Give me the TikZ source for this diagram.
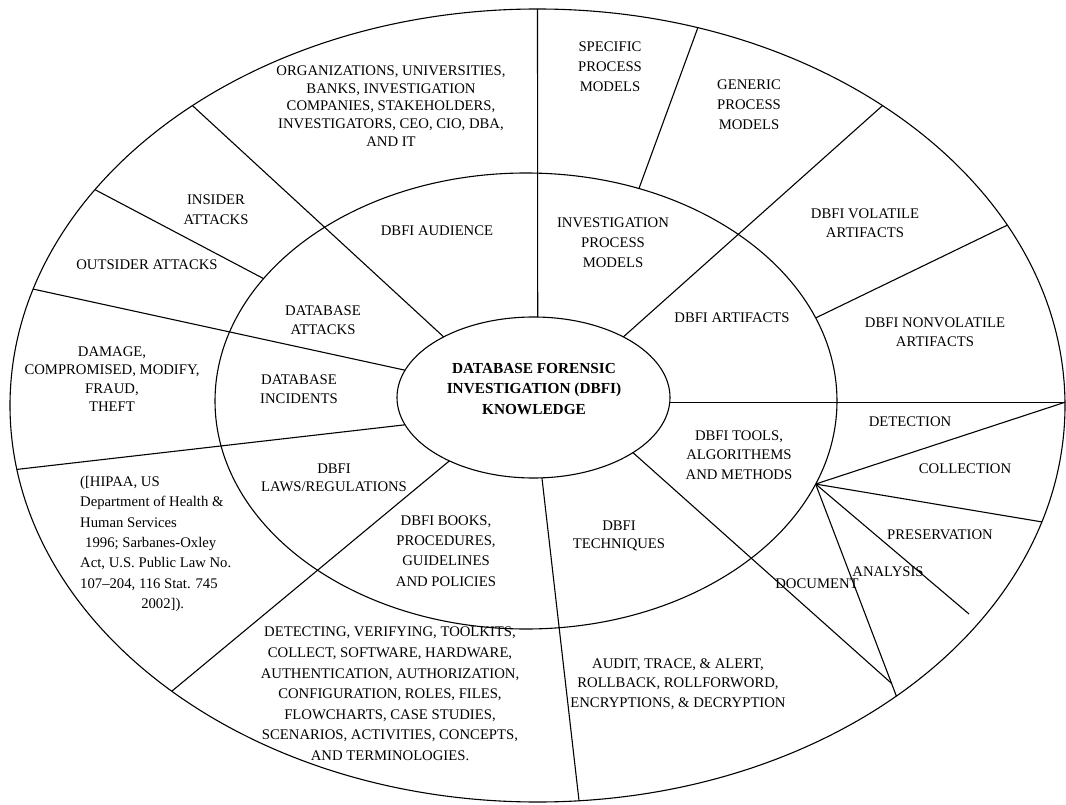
\documentclass[tikz,border=0pt]{standalone}
\usepackage{fontspec}
\setmainfont{Liberation Serif}
\usetikzlibrary{shapes.geometric,calc}
\begin{document}
\begin{tikzpicture}[x=1pt,y=-1pt,
  ring/.style={draw, ellipse, inner sep=0pt, outer sep=0pt, line width=1.1pt},
  sep/.style={draw, line width=1.1pt},
  lbl/.style={align=center, inner sep=0pt, font=\fontsize{14.7}{19.5}\selectfont},
]
\useasboundingbox (0,0) rectangle (1066,805);
\fill[white] (0,0) rectangle (1066,805);
% rings
\node[ring, minimum width=1055pt, minimum height=793pt] (outer) at (537.5,405.5) {};
\node[ring, minimum width=622pt, minimum height=456pt] (middle) at (526,401) {};
\node[ring, minimum width=273pt, minimum height=161pt] (inner) at (533.5,397.5) {};
% helper points
\coordinate (a5) at (inner.-2.3);
\coordinate (re) at (a5 -| outer.east);
\coordinate (hub) at (middle.-16.6);
\coordinate (o9) at (outer.-39.85);
\coordinate (pend) at (969,614);
\coordinate (dend) at ($(hub)!0.94!(o9)$);
% separators
\draw[sep] (inner.87) -- (outer.90);
\draw[sep] (middle.62.8) -- (outer.67);
\draw[sep] (inner.34.8) -- (outer.41.5);
\draw[sep] (middle.16.3) -- (outer.21.45);
\draw[sep] (a5) -- (re);
\draw[sep] (re) -- (hub);
\draw[sep] (hub) -- (outer.-13.7);
\draw[sep] (hub) -- (pend);
\draw[sep] (hub) -- (o9);
\draw[sep] (inner.-29.1) -- (dend);
\draw[sep] (inner.-84.1) -- (outer.-84.6);
\draw[sep] (inner.217) -- (outer.218.5);
\draw[sep] (inner.192.7) -- (outer.187.9);
\draw[sep] (inner.168.5) -- (outer.167.3);
\draw[sep] (inner.146.1) -- (outer.139.5);
\draw[sep] (middle.155.35) -- (outer.154.2);
% labels
\node[lbl, font=\bfseries\fontsize{15.3}{20.5}\selectfont] (core) at (534,389) {DATABASE FORENSIC\\INVESTIGATION (DBFI)\\KNOWLEDGE};
\node[lbl, font=\fontsize{14.7}{17.8}\selectfont] (org) at (391,106) {ORGANIZATIONS, UNIVERSITIES,\\BANKS, INVESTIGATION\\COMPANIES, STAKEHOLDERS,\\INVESTIGATORS, CEO, CIO, DBA,\\AND IT};
\node[lbl] (insider) at (216,209.5) {INSIDER\\ATTACKS};
\node[lbl] (outsider) at (147,265) {OUTSIDER ATTACKS};
\node[lbl] (audience) at (437,231) {DBFI AUDIENCE};
\node[lbl] (dbatt) at (323,320) {DATABASE\\ATTACKS};
\node[lbl, font=\fontsize{14.7}{18.3}\selectfont] (damage) at (112,379) {DAMAGE,\\COMPROMISED, MODIFY,\\FRAUD,\\THEFT};
\node[lbl] (dbinc) at (299,389) {DATABASE\\INCIDENTS};
\node[lbl, font=\fontsize{14.7}{18.5}\selectfont] (laws) at (334,478) {DBFI\\LAWS/REGULATIONS};
\node[lbl, align=left, anchor=west, font=\fontsize{14.7}{20.3}\selectfont] (hipaa) at (80,544) {([HIPAA, US\\Department of Health \&\\Human Services\\\hspace*{5pt}1996; Sarbanes-Oxley\\Act, U.S. Public Law No.\\107--204, 116 Stat. 745\\\makebox[165pt]{2002]).}};
\node[lbl, font=\fontsize{14.7}{20.3}\selectfont] (books) at (446,551) {DBFI BOOKS,\\PROCEDURES,\\GUIDELINES\\AND POLICIES};
\node[lbl, font=\fontsize{14.7}{20.6}\selectfont] (detecting) at (390,694) {DETECTING, VERIFYING, TOOLKITS,\\COLLECT, SOFTWARE, HARDWARE,\\AUTHENTICATION, AUTHORIZATION,\\CONFIGURATION, ROLES, FILES,\\FLOWCHARTS, CASE STUDIES,\\SCENARIOS, ACTIVITIES, CONCEPTS,\\AND TERMINOLOGIES.};
\node[lbl, font=\fontsize{14.7}{20}\selectfont] (specific) at (610,67) {SPECIFIC\\PROCESS\\MODELS};
\node[lbl, font=\fontsize{14.7}{20}\selectfont] (generic) at (749,105) {GENERIC\\PROCESS\\MODELS};
\node[lbl, font=\fontsize{14.7}{20}\selectfont] (ipm) at (613,243) {INVESTIGATION\\PROCESS\\MODELS};
\node[lbl] (volatile) at (865,223) {DBFI VOLATILE\\ARTIFACTS};
\node[lbl] (artifacts) at (732,318) {DBFI ARTIFACTS};
\node[lbl] (nonvol) at (935,332) {DBFI NONVOLATILE\\ARTIFACTS};
\node[lbl] (tools) at (739,455) {DBFI TOOLS,\\ALGORITHEMS\\AND METHODS};
\node[lbl] (detection) at (910,422) {DETECTION};
\node[lbl] (collection) at (965,469) {COLLECTION};
\node[lbl] (preservation) at (940,535) {PRESERVATION};
\node[lbl] (analysis) at (888,572) {ANALYSIS};
\node[lbl] (document) at (817,584) {DOCUMENT};
\node[lbl, font=\fontsize{14.7}{18.5}\selectfont] (techniques) at (619,536) {DBFI\\TECHNIQUES};
\node[lbl] (audit) at (678,684) {AUDIT, TRACE, \& ALERT,\\ROLLBACK, ROLLFORWORD,\\ENCRYPTIONS, \& DECRYPTION};
\end{tikzpicture}
\end{document}
